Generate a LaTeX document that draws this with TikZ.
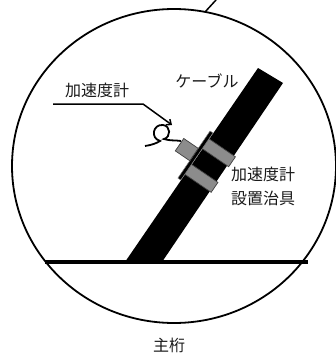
\documentclass[tikz,border=0pt]{standalone}
\usepackage{fontspec}
\newfontfamily\jpfont{Noto Sans CJK JP}
\usetikzlibrary{arrows.meta}
\newcommand{\stayrect}[4]% u from, u to, n from, n to
{(#1,#3) rectangle (#2,#4)
}

\begin{document}
\begin{tikzpicture}[x=1pt,y=1pt,
	jptext/.style={font=\jpfont\fontsize{16}{24}\selectfont, text=black!90, inner sep=0pt},
	band/.style={fill=black!45, draw=black!75, line width=0.7pt}]
	\useasboundingbox (0,0) rectangle (336,-356);
	\draw[line width=1.8pt] (174,-166) ellipse (162 and 157);%detail circle
	\draw[line width=1.5pt] (205,-12) -- (216,0);
	\fill (125,-262) -- (162,-262) -- (283,-83) -- (258,-68) -- cycle;%cable
	\draw[line width=3.5pt] (45,-262) -- (308,-262);%girder
	\begin{scope}[shift={(143,-262)}, rotate=55.67]
		\filldraw[band] \stayrect{96}{108}{-17}{17};
		\filldraw[band] \stayrect{127}{139}{-17}{17};
		\filldraw[fill=black, draw=black!50, line width=0.5pt] \stayrect{89}{146}{15}{18.5};
		\filldraw[band] \stayrect{110}{125}{18.5}{36};%sensor
	\end{scope}
	\draw[line width=1.8pt] (145,-146) .. controls (152,-145) and (157,-143) .. (160,-141)
		.. controls (150,-138) and (153,-124) .. (163,-125)
		.. controls (171,-126) and (171,-137) .. (164,-139)
		.. controls (170,-141) and (175,-140) .. (181,-141);
	\node[jptext] (lblacc) at (97,-90) {加速度計};
	\node[jptext] (lblcable) at (207,-81) {ケーブル};
	\node[jptext, align=center] (lbljig) at (263,-186) {加速度計\\設置治具};
	\node[jptext] (lblgirder) at (169,-345) {主桁};
	\coordinate (acctail) at (53,-104);
	\coordinate (accknee) at (143,-104);
	\coordinate (acctip) at (172,-125);
	\draw[line width=1.5pt, -{Straight Barb[length=4pt,width=7pt]}] (acctail) -- (accknee) -- (acctip);
\end{tikzpicture}
\end{document}
